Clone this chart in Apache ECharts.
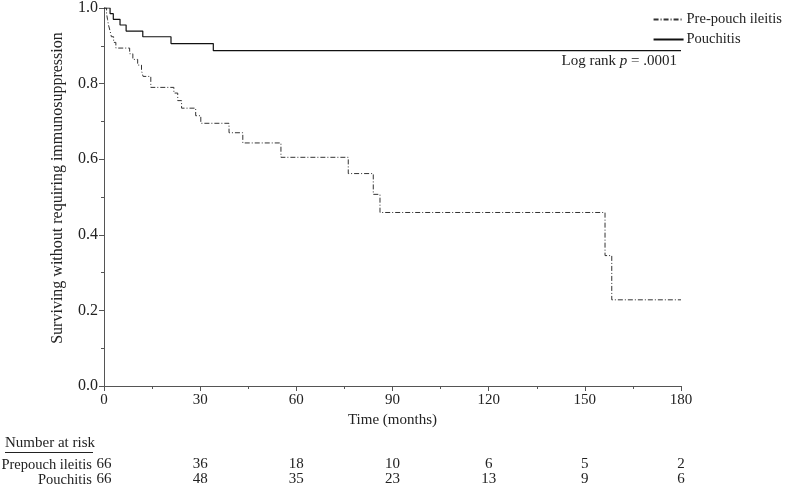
<!DOCTYPE html>
<html>
<head>
<meta charset="utf-8">
<script src="https://cdn.jsdelivr.net/npm/echarts@6/dist/echarts.min.js"></script>
<style>
  html, body { margin: 0; padding: 0; background: #fff; }
  #chart { width: 790px; height: 487px; }
</style>
</head>
<body>
<div id="chart"></div>
<script>
// Kaplan-Meier steps: [months, survival]
var prepouch = [
  [0, 1.0], [0.8, 0.985], [1.1, 0.97], [1.4, 0.955], [1.9, 0.939], [2.3, 0.924],
  [3.0, 0.909], [3.7, 0.894], [8.0, 0.879], [9.0, 0.864], [10.5, 0.849],
  [11.7, 0.834], [12.2, 0.819], [14.6, 0.79], [21.8, 0.775], [23.0, 0.755],
  [24.2, 0.735], [28.6, 0.715], [30.2, 0.695], [39.0, 0.67], [43.3, 0.643],
  [55.2, 0.605], [76.2, 0.562], [84.0, 0.507], [86.1, 0.459], [156.3, 0.345],
  [158.4, 0.228], [180, 0.228]
];
var pouchitis = [
  [0, 1.0], [1.9, 0.985], [2.9, 0.97], [5.0, 0.955], [6.9, 0.939],
  [12.1, 0.924], [20.9, 0.906], [34.1, 0.887], [180, 0.887]
];
var riskTimes = [0, 30, 60, 90, 120, 150, 180];
var riskPrepouch = [66, 36, 18, 10, 6, 5, 2];
var riskPouchitis = [66, 48, 35, 23, 13, 9, 6];

var font = 'Liberation Serif';
var ink = '#222';

function riskAxis(values, offset) {
  return {
    type: 'value', min: 0, max: 180, interval: 30, position: 'bottom',
    offset: offset,
    axisLine: { show: false }, axisTick: { show: false }, splitLine: { show: false },
    axisLabel: {
      margin: 4, fontFamily: font, fontSize: 15, color: ink,
      formatter: function (v) {
        var i = riskTimes.indexOf(v);
        return i < 0 ? '' : String(values[i]);
      }
    }
  };
}

var chart = echarts.init(document.getElementById('chart'));
chart.setOption({
  animation: false,
  textStyle: { fontFamily: font },
  grid: { left: 104, right: 109, top: 8, bottom: 99 },
  legend: {
    orient: 'vertical', right: 3, top: 7, itemWidth: 30, itemHeight: 10, itemGap: 5,
    itemStyle: { color: 'rgba(0,0,0,0)', borderColor: 'rgba(0,0,0,0)', borderWidth: 0 },
    textStyle: { fontFamily: font, fontSize: 14.5, color: ink, padding: [0, 0, 0, -2] },
    data: ['Pre-pouch ileitis', 'Pouchitis']
  },
  xAxis: [{
    type: 'value', min: 0, max: 180, interval: 30,
    name: 'Time (months)', nameLocation: 'middle', nameGap: 27,
    nameTextStyle: { fontFamily: font, fontSize: 15, color: ink },
    axisLine: { lineStyle: { color: '#555', width: 1 } },
    axisTick: { length: 5, lineStyle: { color: '#555' } },
    minorTick: { show: true, splitNumber: 2, length: 3, lineStyle: { color: '#555' } },
    splitLine: { show: false },
    axisLabel: { margin: 7, fontFamily: font, fontSize: 15, color: ink }
  },
    riskAxis(riskPrepouch, 67),
    riskAxis(riskPouchitis, 82)
  ],
  yAxis: {
    type: 'value', min: 0, max: 1, interval: 0.2,
    name: 'Surviving without requiring immunosuppression', nameLocation: 'middle', nameGap: 38,
    nameTextStyle: { fontFamily: font, fontSize: 16, color: ink, padding: [0, 0, 0, 18] },
    axisLine: { show: true, lineStyle: { color: '#555', width: 1 } },
    axisTick: { show: true, length: 5, lineStyle: { color: '#555' } },
    minorTick: { show: true, splitNumber: 2, length: 3, lineStyle: { color: '#555' } },
    splitLine: { show: false },
    axisLabel: {
      margin: 6, fontFamily: font, fontSize: 16, color: ink,
      formatter: function (v) { return v.toFixed(1); }
    }
  },
  graphic: [
    {
      type: 'text', right: 113, top: 54,
      style: {
        text: '{n|Log rank }{i|p}{n| = .0001}',
        rich: {
          n: { fontFamily: font, fontSize: 15, fill: ink },
          i: { fontFamily: font, fontSize: 15, fontStyle: 'italic', fill: ink }
        }
      }
    },
    {
      type: 'text', left: 5, top: 436,
      style: { text: 'Number at risk', fontFamily: font, fontSize: 15, fill: ink }
    },
    {
      type: 'line', shape: { x1: 5, y1: 452.5, x2: 93, y2: 452.5 },
      style: { stroke: ink, lineWidth: 1 }
    },
    {
      type: 'text', x: 92, y: 465,
      style: { text: 'Prepouch ileitis', fontFamily: font, fontSize: 14.5, fill: ink, align: 'right', verticalAlign: 'middle' }
    },
    {
      type: 'text', x: 92, y: 480,
      style: { text: 'Pouchitis', fontFamily: font, fontSize: 14.5, fill: ink, align: 'right', verticalAlign: 'middle' }
    }
  ],
  series: [
    {
      name: 'Pre-pouch ileitis', type: 'line', step: 'end', symbol: 'none',
      lineStyle: { color: '#333', width: 1, type: [5, 2, 1, 2] },
      data: prepouch
    },
    {
      name: 'Pouchitis', type: 'line', step: 'end', symbol: 'none',
      lineStyle: { color: '#111', width: 1.2, type: 'solid' },
      data: pouchitis
    }
  ]
});
</script>
</body>
</html>
